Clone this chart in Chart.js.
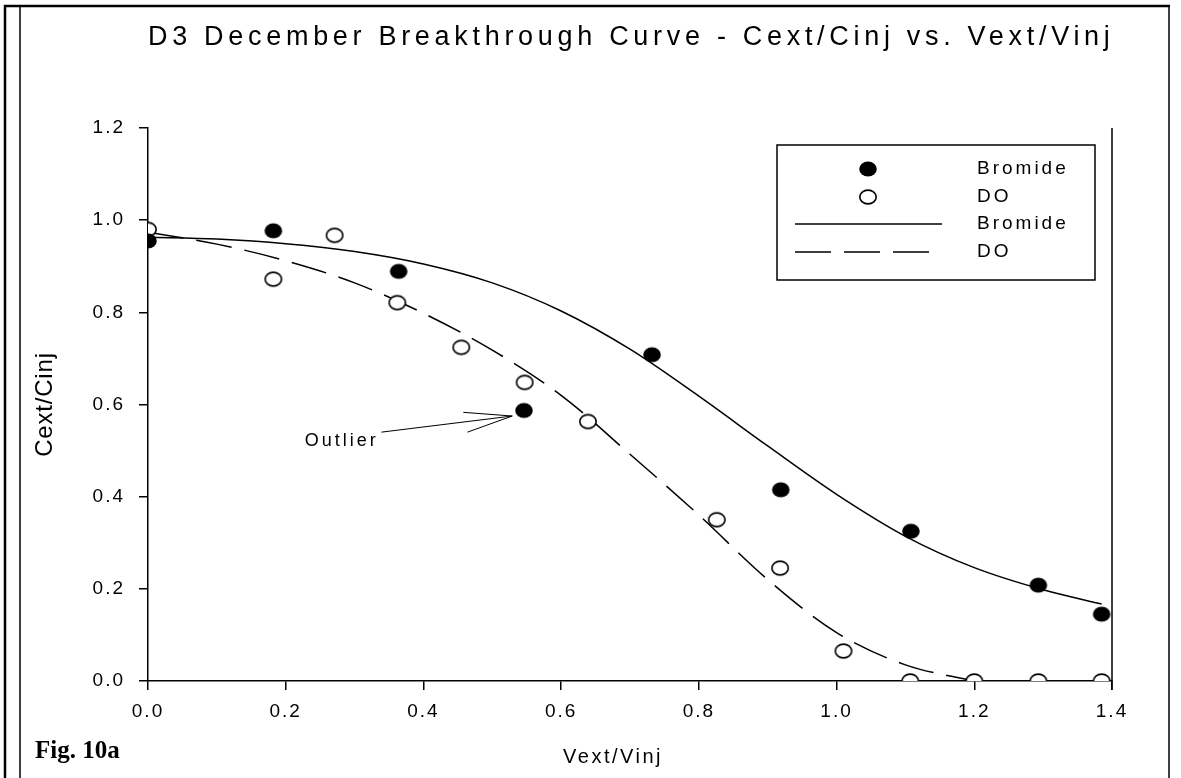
<!DOCTYPE html>
<html>
<head>
<meta charset="utf-8">
<script src="https://cdn.jsdelivr.net/npm/chart.js@4.4.1/dist/chart.umd.min.js"></script>
<style>
  html, body { margin: 0; padding: 0; background: #fff; }
  #wrap { width: 1181px; height: 778px; position: relative; }
</style>
</head>
<body>
<div id="wrap"><canvas id="c" width="1181" height="778"></canvas></div>
<script>
// Measured points
const bromideX = [0, 0.182, 0.364, 0.546, 0.732, 0.919, 1.108, 1.293, 1.385];
const bromideY = [0.955, 0.977, 0.889, 0.587, 0.708, 0.415, 0.325, 0.208, 0.145];
const doX = [0, 0.182, 0.271, 0.362, 0.455, 0.547, 0.639, 0.826, 0.918, 1.01, 1.107, 1.2, 1.293, 1.385];
const doY = [0.98, 0.872, 0.967, 0.821, 0.724, 0.648, 0.563, 0.35, 0.245, 0.065, 0, 0, 0, 0];

// Fitted breakthrough curves
const bromideFitX = [0, 0.1, 0.2, 0.3, 0.4, 0.5, 0.6, 0.7, 0.8, 0.9, 1.0, 1.1, 1.2, 1.3, 1.385];
const bromideFitY = [0.963, 0.959, 0.949, 0.932, 0.905, 0.864, 0.803, 0.72, 0.618, 0.51, 0.405, 0.314, 0.246, 0.198, 0.167];
const doFitX = [0, 0.1, 0.2, 0.3, 0.4, 0.5, 0.6, 0.7, 0.8, 0.9, 1.0, 1.1, 1.2];
const doFitY = [0.974, 0.948, 0.912, 0.864, 0.798, 0.718, 0.62, 0.492, 0.36, 0.22, 0.105, 0.035, 0.0];

// Axis tick labels
const xTickLabels = ['0.0', '0.2', '0.4', '0.6', '0.8', '1.0', '1.2', '1.4'];
const yTickLabels = ['0.0', '0.2', '0.4', '0.6', '0.8', '1.0', '1.2'];

// "Outlier" callout (data units)
const noteText = 'Outlier';
const noteAnchor = [0.335, 0.521];
const arrowFrom = [0.339, 0.540];
const arrowTip = [0.529, 0.575];
const arrowBarbs = [[0.458, 0.583], [0.464, 0.540]];

const legendLabels = ['Bromide', 'DO', 'Bromide', 'DO'];

const SANS = '"Liberation Sans", Arial, sans-serif';
const pts = (xs, ys) => xs.map((x, i) => ({ x, y: ys[i] }));

// slightly flattened circle markers
function marker(fill) {
  const c = document.createElement('canvas');
  c.width = 20; c.height = 18;
  const g = c.getContext('2d');
  g.beginPath();
  if (fill) {
    g.ellipse(10, 9, 8.8, 7.6, 0, 0, Math.PI * 2);
    g.fillStyle = '#000';
    g.fill();
  } else {
    g.ellipse(10, 9, 8.2, 6.9, 0, 0, Math.PI * 2);
    g.fillStyle = '#fff';
    g.fill();
    g.lineWidth = 1.6;
    g.strokeStyle = '#000';
    g.stroke();
  }
  return c;
}
const filledDot = marker(true);
const openDot = marker(false);

const decor = {
  id: 'decor',
  beforeDraw(chart) {
    chart.ctx.letterSpacing = '2px';
  },
  afterDraw(chart) {
    const ctx = chart.ctx;
    const xs = chart.scales.x, ys = chart.scales.y;
    const area = chart.chartArea;
    ctx.save();
    ctx.fillStyle = '#000';
    ctx.strokeStyle = '#000';

    // page frame
    ctx.lineWidth = 2.5;
    ctx.beginPath();
    ctx.moveTo(5, 778); ctx.lineTo(5, 6); ctx.lineTo(1170, 6);
    ctx.stroke();
    ctx.lineWidth = 1.5;
    ctx.beginPath();
    ctx.moveTo(20, 7); ctx.lineTo(20, 778);
    ctx.moveTo(1169, 6); ctx.lineTo(1169, 778);
    ctx.stroke();

    // right edge of the plot
    ctx.lineWidth = 1.5;
    ctx.beginPath();
    ctx.moveTo(area.right, area.top);
    ctx.lineTo(area.right, area.bottom + 9);
    ctx.stroke();

    // title
    ctx.letterSpacing = '4.7px';
    ctx.font = '27px ' + SANS;
    ctx.textAlign = 'left';
    ctx.textBaseline = 'alphabetic';
    ctx.fillText('D3 December Breakthrough Curve - Cext/Cinj vs. Vext/Vinj', 148, 45);

    // figure tag
    ctx.letterSpacing = '0px';
    ctx.font = 'bold 25px "Liberation Serif", "Times New Roman", serif';
    ctx.fillText('Fig. 10a', 35, 758);

    // axis titles
    ctx.letterSpacing = '2.5px';
    ctx.font = '20px ' + SANS;
    ctx.textAlign = 'center';
    ctx.textBaseline = 'middle';
    ctx.fillText('Vext/Vinj', 613, 757);
    ctx.save();
    ctx.translate(45, (area.top + area.bottom) / 2);
    ctx.rotate(-Math.PI / 2);
    ctx.letterSpacing = '0.8px';
    ctx.font = '24px ' + SANS;
    ctx.fillText('Cext/Cinj', 0, 0);
    ctx.restore();

    // legend
    const lg = { left: 777, top: 145, right: 1095, bottom: 280 };
    ctx.lineWidth = 1.5;
    ctx.strokeRect(lg.left, lg.top, lg.right - lg.left, lg.bottom - lg.top);
    const rows = [169, 197, 224, 252];
    const ds = chart.data.datasets;
    ctx.letterSpacing = '3px';
    ctx.font = '19px ' + SANS;
    ctx.textAlign = 'left';
    ctx.textBaseline = 'middle';
    rows.forEach((y, i) => {
      const d = ds[i];
      if (d.showLine === false) {
        const img = d.pointStyle;
        ctx.drawImage(img, 868 - img.width / 2, y - img.height / 2);
      } else {
        ctx.strokeStyle = d.borderColor;
        ctx.lineWidth = d.borderWidth;
        ctx.setLineDash(d.borderDash || []);
        ctx.beginPath();
        ctx.moveTo(795, y);
        ctx.lineTo(942, y);
        ctx.stroke();
        ctx.setLineDash([]);
      }
      ctx.fillStyle = '#000';
      ctx.fillText(legendLabels[i], 977, y);
    });

    // outlier callout
    ctx.letterSpacing = '3px';
    ctx.font = '18px ' + SANS;
    ctx.textAlign = 'right';
    ctx.textBaseline = 'middle';
    ctx.fillText(noteText, xs.getPixelForValue(noteAnchor[0]), ys.getPixelForValue(noteAnchor[1]));
    const tx = xs.getPixelForValue(arrowTip[0]), ty = ys.getPixelForValue(arrowTip[1]);
    ctx.strokeStyle = '#000';
    ctx.lineWidth = 1;
    ctx.beginPath();
    ctx.moveTo(xs.getPixelForValue(arrowFrom[0]), ys.getPixelForValue(arrowFrom[1]));
    ctx.lineTo(tx, ty);
    arrowBarbs.forEach(b => {
      ctx.moveTo(tx, ty);
      ctx.lineTo(xs.getPixelForValue(b[0]), ys.getPixelForValue(b[1]));
    });
    ctx.stroke();
    ctx.restore();
  }
};

new Chart(document.getElementById('c'), {
  type: 'scatter',
  data: {
    datasets: [
      {
        label: 'Bromide',
        data: pts(bromideX, bromideY),
        showLine: false,
        pointStyle: filledDot,
        backgroundColor: '#000',
        borderColor: '#000'
      },
      {
        label: 'DO',
        data: pts(doX, doY),
        showLine: false,
        pointStyle: openDot,
        backgroundColor: '#fff',
        borderColor: '#000'
      },
      {
        label: 'Bromide',
        data: pts(bromideFitX, bromideFitY),
        showLine: true,
        pointRadius: 0,
        borderColor: '#000',
        borderWidth: 1.5,
        cubicInterpolationMode: 'monotone'
      },
      {
        label: 'DO',
        data: pts(doFitX, doFitY),
        showLine: true,
        pointRadius: 0,
        borderColor: '#000',
        borderWidth: 1.5,
        borderDash: [36, 13],
        cubicInterpolationMode: 'monotone'
      }
    ]
  },
  options: {
    responsive: false,
    animation: false,
    layout: { padding: { top: 128, right: 69, left: 0, bottom: 0 } },
    plugins: {
      legend: { display: false },
      title: { display: false },
      tooltip: { enabled: false }
    },
    scales: {
      x: {
        type: 'linear',
        min: 0, max: 1.4,
        afterFit: s => { s.height = 97; },
        border: { display: true, color: '#000', width: 1.5 },
        grid: { drawOnChartArea: false, drawTicks: true, tickLength: 9, color: '#000', lineWidth: 1.5 },
        ticks: {
          stepSize: 0.2,
          color: '#000',
          padding: 10,
          maxRotation: 0,
          font: { family: SANS, size: 19 },
          callback: (v, i) => xTickLabels[i]
        }
      },
      y: {
        type: 'linear',
        min: 0, max: 1.2,
        afterFit: s => { s.width = 148; },
        border: { display: true, color: '#000', width: 1.5 },
        grid: { drawOnChartArea: false, drawTicks: true, tickLength: 9, color: '#000', lineWidth: 1.5 },
        ticks: {
          stepSize: 0.2,
          color: '#000',
          padding: 14,
          font: { family: SANS, size: 19 },
          callback: (v, i) => yTickLabels[i]
        }
      }
    }
  },
  plugins: [decor]
});
</script>
</body>
</html>
